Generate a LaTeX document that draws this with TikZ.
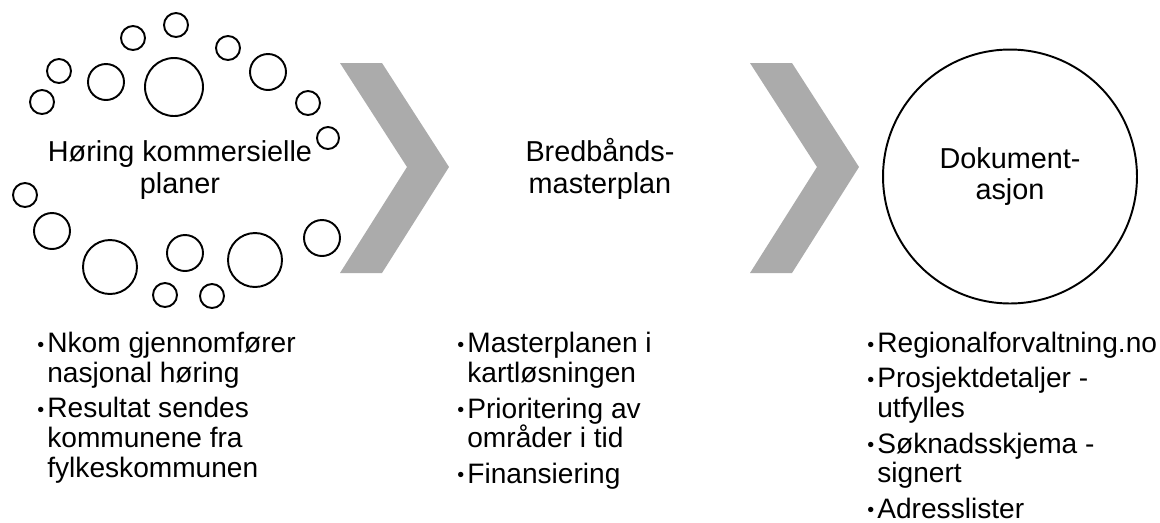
\documentclass[tikz,border=0pt]{standalone}
\usepackage{fontspec}
\setmainfont{Liberation Sans}
\usetikzlibrary{positioning}
\definecolor{chevgray}{RGB}{171,171,171}
\newcommand{\itembul}{\makebox[0.2cm][l]{\raisebox{0.8pt}{\scalebox{0.7}{\textbullet}}}}
\newcommand{\itemgap}{\hspace*{0.2cm}}

\begin{document}
\begin{tikzpicture}[
    x=0.02cm, y=-0.02cm,
    ring/.style={draw=black, line width=1.1pt},
    chevron/.style={fill=chevgray},
    heading/.style={align=center, anchor=base, font=\fontsize{16.4}{18.1}\selectfont},
    points/.style={align=left, anchor=base west, inner sep=0pt, font=\fontsize{16}{16.8}\selectfont}
]
\useasboundingbox (0,0) rectangle (1160,522);

% Bubbles round the first step
\foreach \x/\y/\r in {
    176/25/12, 133/38/12, 228/48/12, 59/71/12, 106/82/18,
    174/87/29, 268/72/18, 42/102/12, 308/103/12, 328/138/11,
    25/195/12, 52/231/18, 110/267/27, 185/253/18, 255/260/27,
    322/238/18, 165/295/12, 212/296/12} {
    \draw[ring] (\x,\y) circle (\r);
}

% Chevrons between the steps
\foreach \x in {340,750} {
    \fill[chevron] (\x,63) -- ++(42,0) -- ++(67,104) -- ++(-67,106)
        -- ++(-42,0) -- ++(67,-106) -- cycle;
}

% Steps (anchored on the baseline of the last line)
\node[heading] (hearing) at (180,193) {Høring kommersielle\\planer};
\node[heading] (master) at (600,193) {Bredbånds-\\masterplan};
\node[ring, circle, minimum size=5.08cm, inner sep=0pt, align=center,
    font=\fontsize{16.4}{18.1}\selectfont] (doc) at (1010,176.5) {Dokument-\\asjon};

% Bullet lists under the steps
\node[points] (hearlist) at (37,477) {\itembul Nkom gjennomfører\\
    \itemgap nasjonal høring\\[3.4pt]
    \itembul Resultat sendes\\
    \itemgap kommunene fra\\
    \itemgap fylkeskommunen};
\node[points] (masterlist) at (457,483) {\itembul Masterplanen i\\
    \itemgap kartløsningen\\[3.4pt]
    \itembul Prioritering av\\
    \itemgap områder i tid\\[3.4pt]
    \itembul Finansiering};
\node[points] (doclist) at (867,518) {\itembul Regionalforvaltning.no\\[3.4pt]
    \itembul Prosjektdetaljer -\\
    \itemgap utfylles\\[3.4pt]
    \itembul Søknadsskjema -\\
    \itemgap signert\\[3.4pt]
    \itembul Adresslister};

\end{tikzpicture}
\end{document}
